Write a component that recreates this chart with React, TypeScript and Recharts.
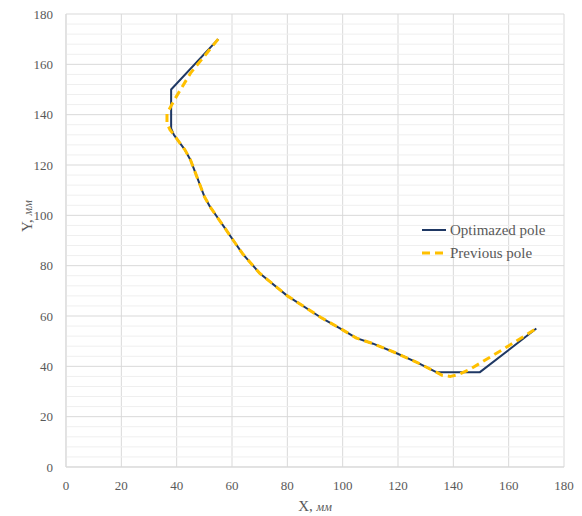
import React from "react";
import { LineChart, Line, XAxis, YAxis, CartesianGrid, ReferenceLine } from "recharts";

const optX = [55, 38, 38, 39, 43, 45, 50, 52, 58, 60.5, 64, 70, 80, 92, 100, 105, 111, 119.5, 127, 134, 149.5, 170];
const optY = [170, 150, 134.5, 132, 126, 122, 107.5, 103.5, 94, 90, 84.5, 77, 68, 59.5, 54.5, 51.2, 49, 45.2, 41.5, 37.6, 37.6, 55];

const prevX = [55, 45, 39.5, 36.5, 36.5, 37.6, 39, 43, 45, 50, 52, 58, 60.5, 64, 70, 80, 92, 100, 105, 111, 119.5, 127, 134, 136, 139, 142, 146, 152, 158, 170];
const prevY = [170, 156.5, 146.5, 140.5, 136.5, 134, 132, 126, 122, 107.5, 103.5, 94, 90, 84.5, 77, 68, 59.5, 54.5, 51.2, 49, 45.2, 41.5, 37.6, 36.4, 36, 36.8, 38.8, 42.8, 46.8, 55];

const ticks = [0, 20, 40, 60, 80, 100, 120, 140, 160, 180];
const minorYTicks = [4, 8, 12, 16, 24, 28, 32, 36, 44, 48, 52, 56, 64, 68, 72, 76, 84, 88, 92, 96, 104, 108, 112, 116, 124, 128, 132, 136, 144, 148, 152, 156, 164, 168, 172, 176];

const seriesNames = ["Optimazed pole", "Previous pole"];
const optData = optX.map((x, i) => ({ x, y: optY[i] }));
const prevData = prevX.map((x, i) => ({ x, y: prevY[i] }));

const FONT = "'Liberation Serif', 'Times New Roman', serif";
const TEXT = "#595959";
const NAVY = "#1F3864";
const GOLD = "#FFC000";

const LegendBox = () => (
  <svg width={150} height={50} style={{ position: "absolute", left: 414, top: 220 }}>
    <line x1={8} x2={32} y1={10} y2={10} stroke={NAVY} strokeWidth={2} />
    <text x={36} y={10} dy="0.35em" fontFamily={FONT} fontSize={15} fill={TEXT}>{seriesNames[0]}</text>
    <line x1={8} x2={32} y1={33} y2={33} stroke={GOLD} strokeWidth={3} strokeDasharray="8 5" />
    <text x={36} y={33} dy="0.35em" fontFamily={FONT} fontSize={15} fill={TEXT}>{seriesNames[1]}</text>
  </svg>
);

export default function App() {
  return (
    <div style={{ position: "absolute", left: 0, top: 0, width: 582, height: 516, background: "#fff", fontFamily: FONT }}>
      <LineChart width={582} height={516} margin={{ top: 14, right: 18, bottom: 0, left: 0 }} style={{ fontFamily: FONT }}>
        {minorYTicks.map((v) => (
          <ReferenceLine key={v} y={v} stroke="#efefef" strokeWidth={1} ifOverflow="hidden" />
        ))}
        <CartesianGrid stroke="#d9d9d9" strokeWidth={1} />
        <XAxis
          type="number"
          dataKey="x"
          domain={[0, 180]}
          ticks={ticks}
          allowDataOverflow
          axisLine={{ stroke: "#d9d9d9" }}
          tickLine={false}
          tickSize={0}
          tickMargin={14}
          height={49}
          tick={{ fill: TEXT, fontFamily: FONT, fontSize: 13 }}
          label={{
            content: () => (
              <text x={315} y={511} textAnchor="middle" fontFamily={FONT} fill={TEXT} fontSize={15}>
                X, <tspan fontStyle="italic" fontSize={12}>мм</tspan>
              </text>
            ),
          }}
        />
        <YAxis
          type="number"
          dataKey="y"
          domain={[0, 180]}
          ticks={ticks}
          allowDataOverflow
          axisLine={{ stroke: "#d9d9d9" }}
          tickLine={false}
          tickSize={0}
          tickMargin={13}
          width={66}
          tick={{ fill: TEXT, fontFamily: FONT, fontSize: 13 }}
          label={{
            content: () => (
              <text x={32} y={216} transform="rotate(-90 32 216)" textAnchor="middle" fontFamily={FONT} fill={TEXT} fontSize={15}>
                Y, <tspan fontStyle="italic" fontSize={12}>мм</tspan>
              </text>
            ),
          }}
        />
        <Line
          data={optData}
          dataKey="y"
          name={seriesNames[0]}
          type="linear"
          stroke={NAVY}
          strokeWidth={2}
          dot={false}
          activeDot={false}
          isAnimationActive={false}
          strokeLinejoin="round"
        />
        <Line
          data={prevData}
          dataKey="y"
          name={seriesNames[1]}
          type="linear"
          stroke={GOLD}
          strokeWidth={3}
          strokeDasharray="8 5"
          dot={false}
          activeDot={false}
          isAnimationActive={false}
          strokeLinejoin="round"
        />
      </LineChart>
      <LegendBox />
    </div>
  );
}
